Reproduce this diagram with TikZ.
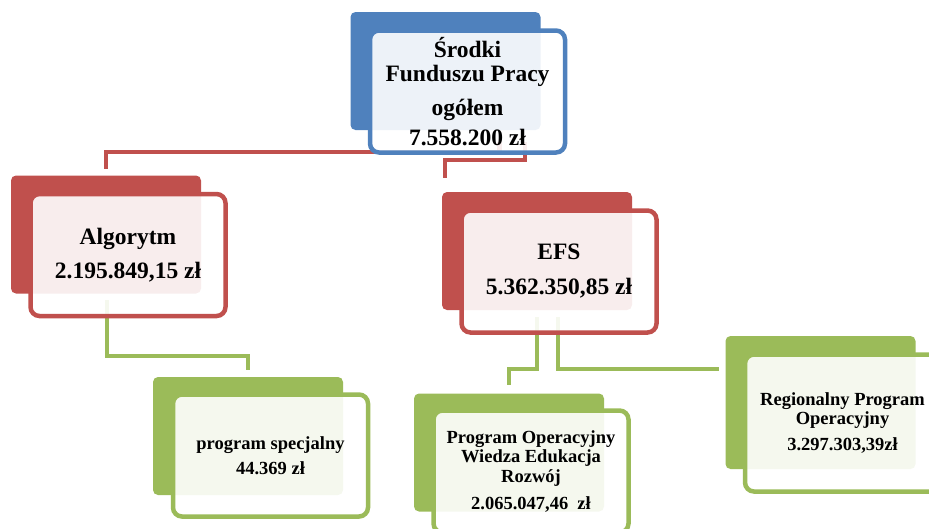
\documentclass[tikz,border=0pt]{standalone}
\usepackage{fontspec}
\setmainfont{Liberation Serif}
\usepackage{xcolor}
\definecolor{fpblue}{HTML}{4F81BD}
\definecolor{fpred}{HTML}{C0504D}
\definecolor{fpgreen}{HTML}{9BBB59}
\usetikzlibrary{positioning,backgrounds}

\begin{document}
\begin{tikzpicture}[x=1pt,y=-1pt]
  \tikzstyle{back} = [rectangle, rounded corners=5pt, inner sep=0pt,
  minimum width=190pt, minimum height=118pt]
  \tikzstyle{front} = [rectangle, rounded corners=9pt, line width=4.5pt,
  draw, fill=white, fill opacity=0.9, text opacity=1, align=center,
  inner sep=2pt, minimum width=195pt, minimum height=122pt]
  \tikzstyle{big} = [font=\fontsize{23.5}{24}\selectfont\bfseries]
  \tikzstyle{small} = [font=\fontsize{18.5}{19.5}\selectfont\bfseries]
  \tikzstyle{link} = [line width=4.5pt]
  \useasboundingbox (0,0) rectangle (929,528);
  % top level
  \node[back, fill=fpblue] (topb) at (445.5,71) {};
  \node[front, draw=fpblue, big] (top) at (467.5,91.5)
  {Środki\\Funduszu Pracy\\[10pt]ogółem\\[6pt]7.558.200 zł};
  % second level
  \node[back, fill=fpred] (algb) at (106,234.5) {};
  \node[front, draw=fpred, big] (alg) at (128,255)
  {Algorytm\\[10pt]2.195.849,15 zł};
  \node[back, fill=fpred] (efsb) at (537,251) {};
  \node[front, draw=fpred, big] (efs) at (559,271.5)
  {EFS\\[11pt]5.362.350,85 zł};
  % third level
  \node[back, fill=fpgreen] (psb) at (248,436) {};
  \node[front, draw=fpgreen, small] (ps) at (270.5,455.5)
  {program specjalny\\[5pt]44.369 zł};
  \node[back, fill=fpgreen] (powb) at (509,452.5) {};
  \node[front, draw=fpgreen, small] (pow) at (531,471.5)
  {Program Operacyjny\\Wiedza Edukacja\\Rozwój\\[8pt]2.065.047,46\ \ zł};
  \node[back, fill=fpgreen, minimum height=133pt] (rpob) at (820.5,402.5) {};
  \node[front, draw=fpgreen, small, minimum height=137pt] (rpo) at (842.5,423)
  {Regionalny Program\\Operacyjny\\[6pt]3.297.303,39zł};
  \begin{pgfonlayer}{background}
    \draw[link, fpred] ([xshift=32pt,yshift=12.75pt]top.south) -- ++(0,10)
    -| ([yshift=6pt]algb.north);
    \draw[link, fpred] ([xshift=57.5pt,yshift=12.75pt]top.south) -- ++(0,18)
    -| ([xshift=3pt,yshift=14pt]efsb.north west);
    \draw[link, fpgreen] ([xshift=-21pt,yshift=18.25pt]alg.south) -- ++(0,56)
    -| ([yshift=7pt]psb.north);
    \draw[link, fpgreen] ([xshift=-22pt,yshift=17.75pt]efs.south) -- ++(0,52)
    -| ([yshift=8pt]powb.north);
    \draw[link, fpgreen] ([xshift=-1pt,yshift=17.75pt]efs.south)
    |- ([xshift=-6pt,yshift=33.5pt]rpob.west);
  \end{pgfonlayer}
\end{tikzpicture}
\end{document}
